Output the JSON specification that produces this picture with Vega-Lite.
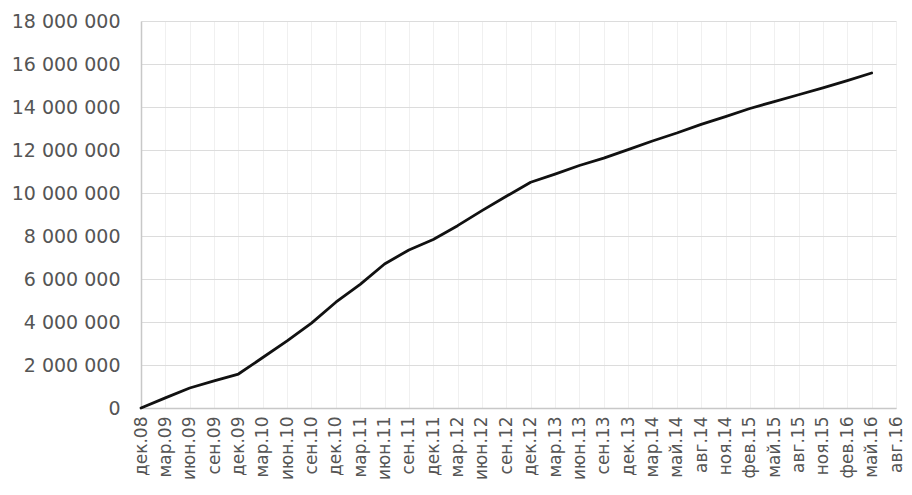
{
  "$schema": "https://vega.github.io/schema/vega-lite/v6.json",
  "width": 755,
  "height": 387,
  "autosize": {"type": "none"},
  "padding": {"left": 141, "top": 21, "right": 16, "bottom": 87},
  "background": "white",
  "data": {
    "values": [
      {"month": "дек.08", "value": 0},
      {"month": "мар.09", "value": 470000},
      {"month": "июн.09", "value": 930000},
      {"month": "сен.09", "value": 1260000},
      {"month": "дек.09", "value": 1580000},
      {"month": "мар.10", "value": 2350000},
      {"month": "июн.10", "value": 3120000},
      {"month": "сен.10", "value": 3950000},
      {"month": "дек.10", "value": 4920000},
      {"month": "мар.11", "value": 5750000},
      {"month": "июн.11", "value": 6700000},
      {"month": "сен.11", "value": 7350000},
      {"month": "дек.11", "value": 7840000},
      {"month": "мар.12", "value": 8480000},
      {"month": "июн.12", "value": 9180000},
      {"month": "сен.12", "value": 9850000},
      {"month": "дек.12", "value": 10500000},
      {"month": "мар.13", "value": 10880000},
      {"month": "июн.13", "value": 11280000},
      {"month": "сен.13", "value": 11620000},
      {"month": "дек.13", "value": 12020000},
      {"month": "мар.14", "value": 12420000},
      {"month": "май.14", "value": 12790000},
      {"month": "авг.14", "value": 13190000},
      {"month": "ноя.14", "value": 13550000},
      {"month": "фев.15", "value": 13930000},
      {"month": "май.15", "value": 14250000},
      {"month": "авг.15", "value": 14570000},
      {"month": "ноя.15", "value": 14890000},
      {"month": "фев.16", "value": 15230000},
      {"month": "май.16", "value": 15580000}
    ]
  },
  "mark": {"type": "line", "color": "#111111", "strokeWidth": 2.8, "strokeJoin": "round", "strokeCap": "round"},
  "encoding": {
    "x": {
      "field": "month",
      "type": "ordinal",
      "sort": null,
      "scale": {
        "type": "point",
        "padding": 0,
        "domain": ["дек.08","мар.09","июн.09","сен.09","дек.09","мар.10","июн.10","сен.10","дек.10","мар.11","июн.11","сен.11","дек.11","мар.12","июн.12","сен.12","дек.12","мар.13","июн.13","сен.13","дек.13","мар.14","май.14","авг.14","ноя.14","фев.15","май.15","авг.15","ноя.15","фев.16","май.16","авг.16"]
      },
      "axis": {
        "title": null,
        "labelAngle": -90,
        "labelFont": "DejaVu Sans",
        "labelFontSize": 17,
        "labelColor": "#555555",
        "labelPadding": 8,
        "ticks": false,
        "domainColor": "#c8c8c8",
        "domainWidth": 1.5,
        "grid": true,
        "gridColor": "#f0f0f0",
        "gridWidth": 1,
        "labelOverlap": false
      }
    },
    "y": {
      "field": "value",
      "type": "quantitative",
      "scale": {"domain": [0, 18000000], "nice": false, "zero": true},
      "axis": {
        "title": null,
        "values": [0, 2000000, 4000000, 6000000, 8000000, 10000000, 12000000, 14000000, 16000000, 18000000],
        "labelExpr": "replace(format(datum.value, ','), regexp(',', 'g'), ' ')",
        "labelFont": "DejaVu Sans",
        "labelFontSize": 19,
        "labelColor": "#555555",
        "labelPadding": 21,
        "ticks": false,
        "domainColor": "#c8c8c8",
        "domainWidth": 1.5,
        "gridColor": "#dcdcdc",
        "gridWidth": 1
      }
    }
  },
  "config": {"view": {"stroke": null}}
}
